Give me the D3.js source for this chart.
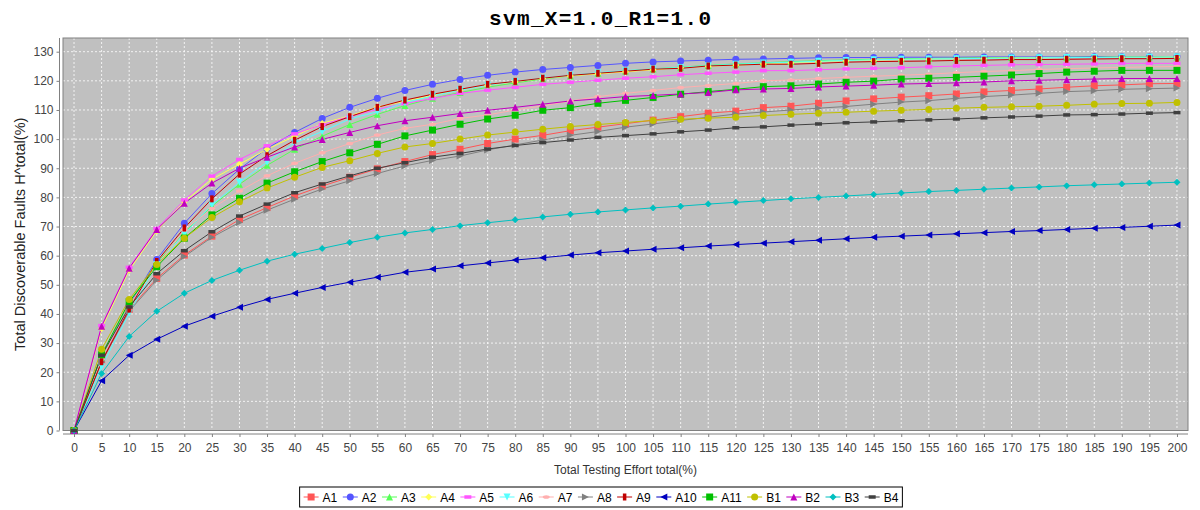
<!DOCTYPE html>
<html lang="en">
<head>
<meta charset="UTF-8">
<title>svm_X=1.0_R1=1.0</title>
<script src="https://cdnjs.cloudflare.com/ajax/libs/d3/7.6.1/d3.min.js"></script>
<style>
  body { margin: 0; background: #fff; }
  text { font-family: "Liberation Sans", Arial, sans-serif; }
</style>
</head>
<body>
<svg id="chart" width="1200" height="510"></svg>
<script>
// x categories (testing effort %)
const efforts = d3.range(0, 201, 5);

const seriesNames = ["A1","A2","A3","A4","A5","A6","A7","A8","A9","A10","A11","B1","B2","B3","B4"];

// values, one per effort step
const A1  = [0,24,41.5,52.2,60.2,66.7,72.4,76.5,80.5,83.9,86.9,89.8,92.3,94.7,96.5,98.5,100,101.3,102.9,104.1,105.3,106.5,107.7,108.9,109.6,110.8,111.3,112.3,113.1,113.8,114.4,114.9,115.5,116.2,116.7,117.2,117.8,118.3,118.6,119,119.1];
const A2  = [0,24.5,43,58.7,71.1,81.3,89.7,96.8,102.3,107.1,110.9,114,116.7,118.8,120.5,121.9,123,123.9,124.6,125.3,126,126.5,126.8,127.1,127.4,127.5,127.7,127.9,128,128,128.1,128.1,128.1,128.2,128.2,128.2,128.2,128.3,128.3,128.3,128.3];
const A3  = [0,25,44,57.5,68,77,84.5,91,96.5,101,105,108.5,111.5,114,116,117.8,119.3,120.6,121.7,122.6,123.4,124.1,124.7,125.3,125.8,126.2,126.6,126.9,127.2,127.4,127.6,127.7,127.8,127.9,128,128,128.1,128.1,128.2,128.2,128.2];
const A4  = [0,35,55,68.5,78.5,86.2,91.4,96.5,101,105.4,108,111,113,115,116.8,118.5,119.7,120.8,121.7,122.4,123.1,123.8,124.5,125,125.4,125.8,126.2,126.6,126.9,127.1,127.3,127.5,127.6,127.7,127.8,127.9,128,128,128.1,128.1,128.2];
const A5  = [0,36,56,69.3,79.1,87.3,93,97.7,101.8,105,107.8,110.2,112.2,113.9,115.7,116.8,117.8,118.8,119.5,120.2,120.9,121.4,122.1,122.6,123,123.5,123.5,123.8,124.1,124.3,124.5,124.8,125.1,125.3,125.5,125.6,125.7,125.8,126,126,126];
const A6  = [0,21.9,40.2,57,67.5,77.4,85.2,92.1,98.7,102.6,106.9,109.4,112.5,114.8,116.8,118.5,119.8,120.9,121.9,122.8,123.5,124.1,124.6,125.2,125.7,126.1,126.4,126.7,127,127.2,127.4,127.5,127.6,127.7,127.8,127.9,128,128,128.1,128.1,128.2];
const A7  = [0,24.5,43,56.5,68.8,76.2,82.2,87.4,91.7,95.3,98.5,101.4,103.7,105.1,107.1,108.3,110,111.4,113.1,114.6,115.7,116.7,117.7,118.4,119.1,120,120.3,120.8,121.2,121.6,121.9,122.3,122.8,123.2,123.5,123.9,124.2,124.4,124.6,124.8,124.9];
const A8  = [0,23.5,41,51.6,59.7,66.3,71.4,75.6,79.4,82.9,85.7,88.2,90.8,92.7,94.2,96.3,98,99.7,101.3,102.6,104.1,105.2,106.4,107.5,108.6,109.3,110,110.6,111.2,112,112.7,113.2,114,114.6,115.1,115.7,116.3,116.6,117.1,117.3,117.5];
const A9  = [0,23.6,41.7,58,69.5,79.5,88,94.3,99.6,104.3,107.7,110.9,113.4,115.4,117.1,118.8,119.8,120.9,121.9,122.6,123.3,124,124.3,125.1,125.4,125.7,125.7,126,126.4,126.6,126.7,126.8,127,127.1,127.3,127.3,127.4,127.5,127.6,127.6,127.7];
const A10 = [0,17.1,25.8,31.3,35.8,39.2,42.3,45,47.1,49.1,50.9,52.6,54.3,55.4,56.5,57.5,58.5,59.3,60.2,61,61.6,62.2,62.7,63.3,63.8,64.3,64.8,65.3,65.8,66.3,66.7,67.1,67.5,67.9,68.3,68.6,69,69.4,69.7,70.1,70.5];
const A11 = [0,26,44.2,56.2,66,74,79.7,84.9,88.8,92.3,95.3,98.2,101.1,103.1,105.1,106.9,108.2,109.9,110.8,112.3,113.3,114.3,115.4,116.3,117.1,118,118.3,118.9,119.5,119.9,120.6,120.9,121.2,121.6,122,122.5,123,123.3,123.6,123.6,123.6];
const B1  = [0,27.9,45,57,66,73.1,78.5,83.2,86.9,90.3,92.6,95.1,97.3,98.5,100,101.4,102.4,103.4,104.3,105,105.7,106.4,106.8,107.2,107.5,108.1,108.5,108.9,109.2,109.6,109.9,110.2,110.6,110.9,111.1,111.3,111.6,112,112.2,112.3,112.6];
const B2  = [0,35.8,55.7,69,78,84.9,90,93.8,97.3,99.9,102.3,104.6,106.3,107.5,108.8,109.9,110.9,112,113.1,113.8,114.6,115,115.5,116,116.9,117.2,117.4,117.9,118.2,118.5,118.9,119.1,119.3,119.6,120,120.2,120.4,120.6,120.8,120.8,120.8];
const B3  = [0,19.6,32.3,40.9,47.1,51.5,55,58.1,60.5,62.5,64.5,66.3,67.8,69,70.3,71.3,72.3,73.3,74.2,75,75.7,76.4,77,77.7,78.3,78.9,79.5,80,80.5,81,81.5,82,82.4,82.8,83.2,83.6,84,84.3,84.6,84.9,85.2];
const B4  = [0,25.8,42.4,53.8,61.7,68.2,73.6,77.7,81.6,84.6,87.4,90,91.9,93.8,95.1,96.6,97.8,98.8,99.7,100.6,101.2,101.8,102.5,103.1,103.9,104.2,104.8,105.2,105.6,105.9,106.3,106.6,106.9,107.3,107.6,107.9,108.3,108.4,108.6,108.9,109.1];

const yTicks = d3.range(0, 131, 10);

const seriesValues = [A1,A2,A3,A4,A5,A6,A7,A8,A9,A10,A11,B1,B2,B3,B4];
const colors = ["#ff5555","#5555ff","#55ff55","#ffff55","#ff55ff","#55ffff","#ffafaf","#808080",
                "#c00000","#0000c0","#00c000","#c0c000","#c000c0","#00c0c0","#404040"];
const shapeOrder = ["square","circle","up","diamond","hrect","down","hellipse","right","vrect","left"];

const series = seriesNames.map((name, i) => ({
    name: name,
    color: colors[i],
    shape: shapeOrder[i % shapeOrder.length],
    points: efforts.map((e, j) => ({x: e, y: seriesValues[i][j]}))
}));

const svg = d3.select("#chart");
const plot = {left: 63, right: 1188, top: 38, bottom: 430.5};

const x = d3.scaleLinear().domain([-2, 202]).range([plot.left, plot.right]);
const y = d3.scaleLinear().domain([0, 134.7]).range([plot.bottom, plot.top]);

// title
svg.append("text")
    .attr("x", 600).attr("y", 25)
    .attr("text-anchor", "middle")
    .attr("textLength", 222)
    .style("font-family", "'Liberation Mono', 'DejaVu Sans Mono', monospace")
    .style("font-weight", "bold")
    .style("font-size", "21px")
    .text("svm_X=1.0_R1=1.0");

// plot background
svg.append("rect")
    .attr("x", plot.left).attr("y", plot.top)
    .attr("width", plot.right - plot.left).attr("height", plot.bottom - plot.top)
    .attr("fill", "#c0c0c0");

// gridlines
const grid = svg.append("g").attr("stroke", "#ffffff").attr("stroke-width", 0.8).attr("stroke-dasharray", "2,2");
grid.selectAll(".gx").data(efforts).join("line")
    .attr("x1", d => x(d)).attr("x2", d => x(d))
    .attr("y1", plot.top).attr("y2", plot.bottom);
grid.selectAll(".gy").data(yTicks).join("line")
    .attr("x1", plot.left).attr("x2", plot.right)
    .attr("y1", d => y(d)).attr("y2", d => y(d));

svg.append("rect")
    .attr("x", plot.left).attr("y", plot.top)
    .attr("width", plot.right - plot.left).attr("height", plot.bottom - plot.top)
    .attr("fill", "none").attr("stroke", "#808080").attr("stroke-width", 1);

// axes
const xAxis = svg.append("g")
    .attr("transform", `translate(0,${plot.bottom + 3.5})`)
    .call(d3.axisBottom(x).tickValues(efforts).tickSize(3).tickPadding(6).tickSizeOuter(0));
const yAxis = svg.append("g")
    .attr("transform", `translate(${plot.left - 3.5},0)`)
    .call(d3.axisLeft(y).tickValues(yTicks).tickSize(3).tickPadding(3).tickSizeOuter(0));

xAxis.select(".domain").attr("d", `M${plot.left},0H${plot.right}`);
yAxis.select(".domain").attr("d", `M0,${plot.top}V${plot.bottom}`);
[xAxis, yAxis].forEach(a => {
    a.selectAll(".domain, .tick line").attr("stroke", "#808080");
    a.selectAll(".tick text")
        .attr("fill", "#444444")
        .style("font-family", "'Liberation Sans', Arial, sans-serif")
        .style("font-size", "12px");
});

// axis labels
svg.append("text")
    .attr("x", (plot.left + plot.right) / 2).attr("y", 474)
    .attr("text-anchor", "middle")
    .style("font-size", "12px").attr("fill", "#333")
    .text("Total Testing Effort total(%)");
svg.append("text")
    .attr("transform", `translate(25,${(plot.top + plot.bottom) / 2}) rotate(-90)`)
    .attr("text-anchor", "middle")
    .style("font-size", "14.5px").attr("fill", "#222")
    .text("Total Discoverable Faults H^total(%)");

// marker shapes (JFreeChart default sequence)
function shapePath(shape, s) {
    const h = s / 2, q = s / 4;
    switch (shape) {
        case "square":  return `M${-h},${-h}H${h}V${h}H${-h}Z`;
        case "circle":  return `M${-h},0A${h},${h} 0 1,0 ${h},0A${h},${h} 0 1,0 ${-h},0Z`;
        case "up":      return `M0,${-h}L${h},${h}L${-h},${h}Z`;
        case "diamond": return `M0,${-h}L${h},0L0,${h}L${-h},0Z`;
        case "hrect":   return `M${-h},${-q}H${h}V${q}H${-h}Z`;
        case "down":    return `M${-h},${-h}L${h},${-h}L0,${h}Z`;
        case "hellipse":return `M${-h},0A${h},${q} 0 1,0 ${h},0A${h},${q} 0 1,0 ${-h},0Z`;
        case "right":   return `M${-h},${-h}L${h},0L${-h},${h}Z`;
        case "vrect":   return `M${-q},${-h}H${q}V${h}H${-q}Z`;
        case "left":    return `M${h},${-h}L${-h},0L${h},${h}Z`;
    }
}

const line = d3.line().x(d => x(d.x)).y(d => y(d.y));

// lines first, then shapes on top; later series drawn over earlier ones
svg.append("g").selectAll("path").data(series).join("path")
    .attr("d", d => line(d.points))
    .attr("fill", "none")
    .attr("stroke", d => d.color)
    .attr("stroke-width", 1);

const markers = svg.append("g");
series.forEach(s => {
    markers.append("g").selectAll("path").data(s.points).join("path")
        .attr("transform", d => `translate(${x(d.x)},${y(d.y)})`)
        .attr("d", shapePath(s.shape, 7))
        .attr("fill", s.color);
});

// legend
const legend = svg.append("g");
const legendBox = legend.append("rect")
    .attr("fill", "#fff").attr("stroke", "#000").attr("stroke-width", 1);
let cursor = 0;
series.forEach(s => {
    const g = legend.append("g").attr("transform", `translate(${cursor},0)`);
    g.append("line").attr("x1", 0).attr("x2", 15).attr("y1", 0).attr("y2", 0)
        .attr("stroke", s.color).attr("stroke-width", 1);
    g.append("path").attr("transform", "translate(7.5,0)")
        .attr("d", shapePath(s.shape, 7)).attr("fill", s.color);
    const t = g.append("text").attr("x", 19).attr("y", 4.5)
        .style("font-size", "12px").attr("fill", "#000").text(s.name);
    const w = t.node().getComputedTextLength();
    cursor += 19 + w + 5.5;
});
const legendWidth = cursor - 5.5;
const legendLeft = 601 - legendWidth / 2;
legend.attr("transform", `translate(${legendLeft},497)`);
legendBox.attr("x", -4).attr("y", -10).attr("width", legendWidth + 8).attr("height", 20);
</script>
</body>
</html>
